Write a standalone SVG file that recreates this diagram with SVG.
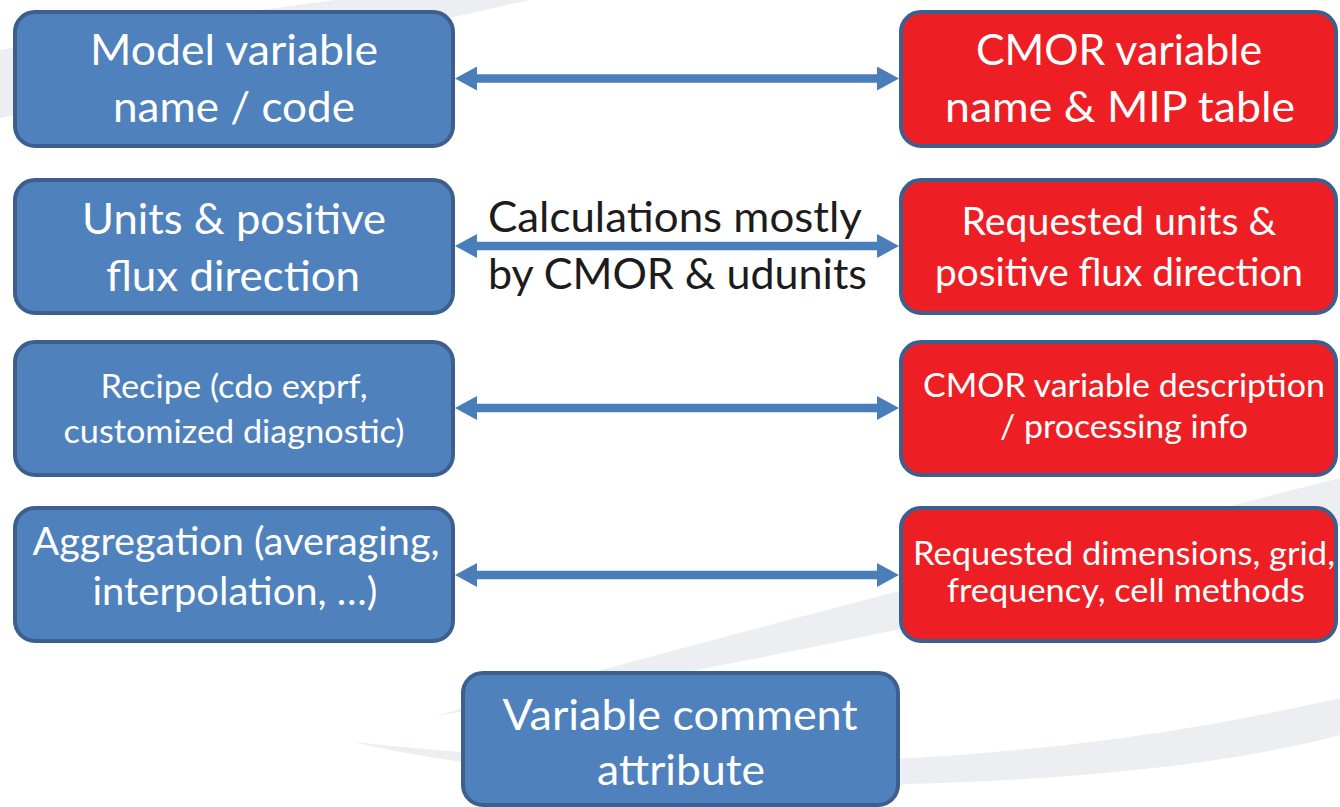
<svg xmlns="http://www.w3.org/2000/svg" width="1340" height="807" viewBox="0 0 1340 807">
  <defs>
    <style>
      .bg { fill: #eceef1; }
      .box { stroke: #3d5f8e; stroke-width: 4; }
      .blue { fill: #4f81bd; }
      .red { fill: #ed1f24; }
      .t { font-family: Lato, "Open Sans", sans-serif; fill: #ffffff; text-anchor: middle; }
      .note { font-family: Lato, "Open Sans", sans-serif; fill: #1c1c1c; font-size: 42.5px; }
      .link { stroke: #4a7ebb; stroke-width: 8.5; fill: none; marker-start: url(#head); marker-end: url(#head); }
    </style>
    <marker id="head" viewBox="0 0 22 24" refX="0" refY="12" markerWidth="22" markerHeight="24" markerUnits="userSpaceOnUse" orient="auto-start-reverse">
      <path d="M0,0 L22,12 L0,24 Z" fill="#4a7ebb"/>
    </marker>
  </defs>

  <rect width="1340" height="807" fill="#ffffff"/>

  <!-- faint background swooshes -->
  <g id="background">
    <path class="bg" d="M0,50 Q170,22 335,0 L530,0 Q250,62 0,118 Z"/>
    <path class="bg" d="M436,716 Q700,640 1340,478 L1340,526 Q900,640 436,716 Z"/>
    <path class="bg" d="M353,742 Q900,800 1340,698 L1340,735 C1100,800 600,800 353,742 Z"/>
  </g>

  <!-- connectors -->
  <g id="connectors">
    <line class="link" x1="477" y1="78.5" x2="877" y2="78.5"/>
    <line class="link" x1="477" y1="246" x2="877" y2="246"/>
    <line class="link" x1="477" y1="408" x2="877" y2="408"/>
    <line class="link" x1="477" y1="575" x2="877" y2="575"/>
  </g>

  <g id="model-name">
    <rect class="box blue" x="15" y="12" width="438" height="134" rx="20"/>
    <text class="t" font-size="42.5" x="234" y="65" textLength="288" lengthAdjust="spacingAndGlyphs">Model variable</text>
    <text class="t" font-size="42.5" x="234" y="122" textLength="242" lengthAdjust="spacingAndGlyphs">name / code</text>
  </g>

  <g id="cmor-name">
    <rect class="box red" x="901" y="12" width="435" height="134" rx="20"/>
    <text class="t" font-size="42.5" x="1119" y="65" textLength="286" lengthAdjust="spacingAndGlyphs">CMOR variable</text>
    <text class="t" font-size="42.5" x="1120" y="122" textLength="350" lengthAdjust="spacingAndGlyphs">name &amp; MIP table</text>
  </g>

  <g id="model-units">
    <rect class="box blue" x="15" y="180" width="438" height="133" rx="20"/>
    <text class="t" font-size="42.5" x="234" y="234" textLength="304" lengthAdjust="spacingAndGlyphs">Units &amp; positive</text>
    <text class="t" font-size="42.5" x="233" y="291" textLength="254" lengthAdjust="spacingAndGlyphs">flux direction</text>
  </g>

  <g id="calc-note">
    <text class="note" x="488" y="232" textLength="374" lengthAdjust="spacingAndGlyphs">Calculations mostly</text>
    <text class="note" x="488" y="289" textLength="379" lengthAdjust="spacingAndGlyphs">by CMOR &amp; udunits</text>
  </g>

  <g id="cmor-units">
    <rect class="box red" x="901" y="180" width="435" height="133" rx="20"/>
    <text class="t" font-size="38" x="1119" y="235" textLength="315" lengthAdjust="spacingAndGlyphs">Requested units &amp;</text>
    <text class="t" font-size="38" x="1119" y="286" textLength="368" lengthAdjust="spacingAndGlyphs">positive flux direction</text>
  </g>

  <g id="model-recipe">
    <rect class="box blue" x="15" y="342" width="438" height="133" rx="20"/>
    <text class="t" font-size="33" x="234" y="398" textLength="267" lengthAdjust="spacingAndGlyphs">Recipe (cdo exprf,</text>
    <text class="t" font-size="33" x="234" y="443" textLength="341" lengthAdjust="spacingAndGlyphs">customized diagnostic)</text>
  </g>

  <g id="cmor-description">
    <rect class="box red" x="901" y="342" width="435" height="133" rx="20"/>
    <text class="t" font-size="33.5" x="1124" y="397" textLength="402" lengthAdjust="spacingAndGlyphs">CMOR variable description</text>
    <text class="t" font-size="33.5" x="1124" y="438" textLength="248" lengthAdjust="spacingAndGlyphs">/ processing info</text>
  </g>

  <g id="model-aggregation">
    <rect class="box blue" x="15" y="508" width="438" height="133" rx="20"/>
    <text class="t" font-size="38" x="236" y="555" textLength="407" lengthAdjust="spacingAndGlyphs">Aggregation (averaging,</text>
    <text class="t" font-size="38" x="235" y="605" textLength="285" lengthAdjust="spacingAndGlyphs">interpolation, …)</text>
  </g>

  <g id="cmor-dimensions">
    <rect class="box red" x="901" y="508" width="435" height="133" rx="20"/>
    <text class="t" font-size="33" x="1124" y="565" textLength="422" lengthAdjust="spacingAndGlyphs">Requested dimensions, grid,</text>
    <text class="t" font-size="33" x="1126" y="602" textLength="358" lengthAdjust="spacingAndGlyphs">frequency, cell methods</text>
  </g>

  <g id="comment-attribute">
    <rect class="box blue" x="463" y="673" width="435" height="132" rx="20"/>
    <text class="t" font-size="42.5" x="680" y="730" textLength="355" lengthAdjust="spacingAndGlyphs">Variable comment</text>
    <text class="t" font-size="42.5" x="681" y="785" textLength="168" lengthAdjust="spacingAndGlyphs">attribute</text>
  </g>
</svg>
